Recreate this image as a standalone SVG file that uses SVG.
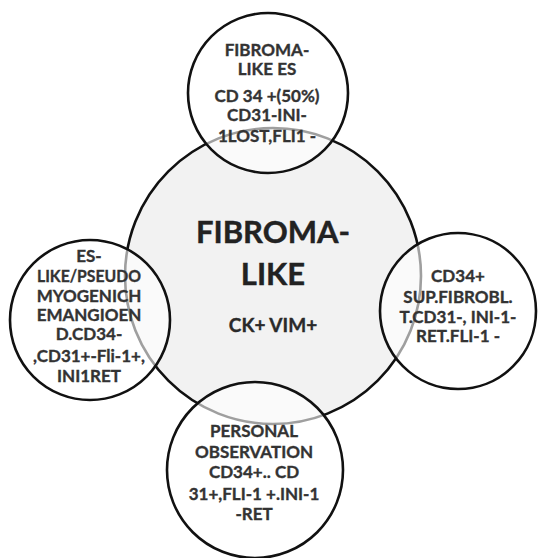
<svg xmlns="http://www.w3.org/2000/svg" width="542" height="558" viewBox="0 0 542 558">
<style>
.center{fill:#f2f2f2;stroke:#111;stroke-width:2.6}
.sat{fill:#fff;fill-opacity:0.6;stroke:#111;stroke-width:2.6}
text{font-family:Lato,"Open Sans","Liberation Sans",sans-serif;font-weight:bold;text-anchor:middle}
.s{font-size:17px;fill:#333;stroke:#333;stroke-width:0.35}
.big{font-size:31px;fill:#222;stroke:#222;stroke-width:0.4}
.mid{font-size:19px;fill:#2a2a2a;stroke:#2a2a2a;stroke-width:0.35}
</style>
<rect width="542" height="558" fill="#fff"/>
<g id="center-node">
<circle class="center" cx="273" cy="276" r="148"/>
</g>
<g id="top-node">
<circle class="sat" cx="268" cy="93" r="80"/>
<text class="s" x="267" y="56">FIBROMA-</text>
<text class="s" x="267" y="75">LIKE ES</text>
<text class="s" x="267" y="102">CD 34 +(50%)</text>
<text class="s" x="267" y="121">CD31-INI-</text>
<text class="s" x="267" y="142">1LOST,FLI1 -</text>
</g>
<g id="left-node">
<circle class="sat" cx="90" cy="320" r="80"/>
<text class="s" x="89" y="262">ES-</text>
<text class="s" x="89" y="282" textLength="104" lengthAdjust="spacingAndGlyphs">LIKE/PSEUDO</text>
<text class="s" x="89" y="302">MYOGENICH</text>
<text class="s" x="89" y="321">EMANGIOEN</text>
<text class="s" x="89" y="340">D.CD34-</text>
<text class="s" x="89" y="362">,CD31+-Fli-1+,</text>
<text class="s" x="89" y="382">INI1RET</text>
</g>
<g id="right-node">
<circle class="sat" cx="458" cy="311" r="78"/>
<text class="s" x="458" y="282">CD34+</text>
<text class="s" x="458" y="303">SUP.FIBROBL.</text>
<text class="s" x="458" y="323">T.CD31-, INI-1-</text>
<text class="s" x="458" y="342">RET.FLI-1 -</text>
</g>
<g id="bottom-node">
<circle class="sat" cx="255" cy="470" r="88"/>
<text class="s" x="254" y="437">PERSONAL</text>
<text class="s" x="254" y="458">OBSERVATION</text>
<text class="s" x="254" y="478">CD34+.. CD</text>
<text class="s" x="254" y="500">31+,FLI-1 +.INI-1</text>
<text class="s" x="254" y="520">-RET</text>
</g>
<g id="center-label">
<text class="big" x="273" y="243">FIBROMA-</text>
<text class="big" x="273" y="285">LIKE</text>
<text class="mid" x="273" y="332">CK+ VIM+</text>
</g>
<g id="connectors"></g>
</svg>
